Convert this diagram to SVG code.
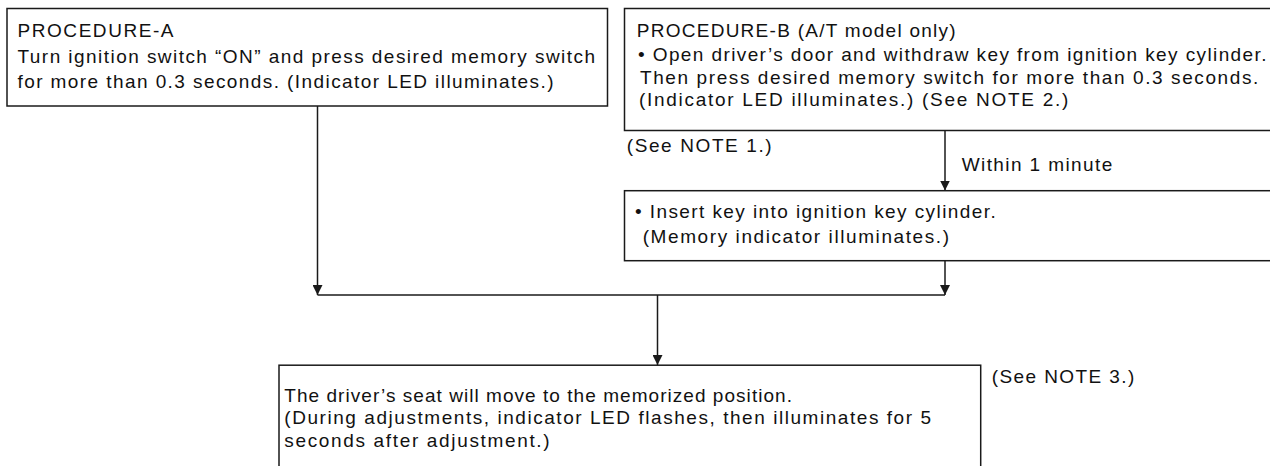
<svg xmlns="http://www.w3.org/2000/svg" width="1270" height="466" viewBox="0 0 1270 466">
<style>
  .box{fill:#fff;stroke:#1a1a1a;stroke-width:1.5}
  .t{font-family:"Liberation Sans",Arial,sans-serif;font-size:19px;fill:#111}
  .c{fill:none;stroke:#1a1a1a;stroke-width:1.5}
</style>
<defs>
  <marker id="ah" markerUnits="userSpaceOnUse" viewBox="0 0 10 10" markerWidth="10" markerHeight="10" refX="10" refY="5" orient="auto">
    <path d="M0,0 L10,5 L0,10 z" fill="#1a1a1a"/>
  </marker>
</defs>
<rect width="1270" height="466" fill="#fff"/>
<g id="connectors">
  <line class="c" x1="317.5" y1="106" x2="317.5" y2="295" marker-end="url(#ah)"/>
  <line class="c" x1="945" y1="130.5" x2="945" y2="190.5" marker-end="url(#ah)"/>
  <line class="c" x1="945" y1="260.5" x2="945" y2="295" marker-end="url(#ah)"/>
  <line class="c" x1="317.5" y1="295" x2="945" y2="295"/>
  <line class="c" x1="657.5" y1="295" x2="657.5" y2="365" marker-end="url(#ah)"/>
</g>
<g id="procA">
  <rect class="box" x="7" y="8.5" width="600.5" height="97.5"/>
  <text class="t" x="17.5" y="36.7" textLength="156">PROCEDURE-A</text>
  <text class="t" x="17.5" y="63.3" textLength="577.5">Turn ignition switch “ON” and press desired memory switch</text>
  <text class="t" x="17.5" y="88.3" textLength="536">for more than 0.3 seconds. (Indicator LED illuminates.)</text>
</g>
<g id="procB">
  <rect class="box" x="624.5" y="8.5" width="660" height="122"/>
  <text class="t" x="636.7" y="36.7" textLength="319">PROCEDURE-B (A/T model only)</text>
  <text class="t" x="638" y="61" textLength="628.5">• Open driver’s door and withdraw key from ignition key cylinder.</text>
  <text class="t" x="640" y="83.5" textLength="618.3">Then press desired memory switch for more than 0.3 seconds.</text>
  <text class="t" x="639" y="106" textLength="429.3">(Indicator LED illuminates.) (See NOTE 2.)</text>
</g>
<g id="note1">
  <text class="t" x="626.7" y="151.7" textLength="145">(See NOTE 1.)</text>
</g>
<g id="within">
  <text class="t" x="961.7" y="171" textLength="150.6">Within 1 minute</text>
</g>
<g id="procB2">
  <rect class="box" x="624.5" y="190.7" width="660" height="70"/>
  <text class="t" x="635" y="218.3" textLength="360.7">• Insert key into ignition key cylinder.</text>
  <text class="t" x="642.7" y="243.3" textLength="306.3">(Memory indicator illuminates.)</text>
</g>
<g id="result">
  <rect class="box" x="279" y="365.2" width="701.7" height="120"/>
  <text class="t" x="284.3" y="402" textLength="507.7">The driver’s seat will move to the memorized position.</text>
  <text class="t" x="284.3" y="424.3" textLength="646.7">(During adjustments, indicator LED flashes, then illuminates for 5</text>
  <text class="t" x="284.3" y="447.3" textLength="265.3">seconds after adjustment.)</text>
</g>
<g id="note3">
  <text class="t" x="991.7" y="383.3" textLength="142.6">(See NOTE 3.)</text>
</g>
</svg>
